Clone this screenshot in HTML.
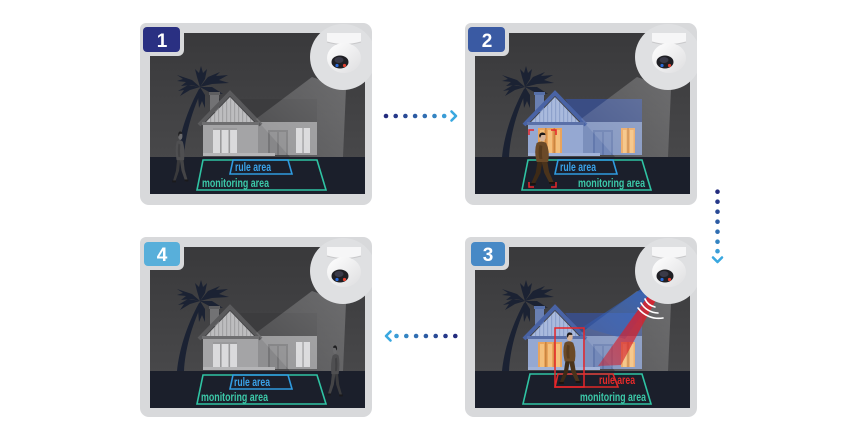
<!DOCTYPE html>
<html><head><meta charset="utf-8"><style>
html,body{margin:0;padding:0;background:#fff;width:850px;height:425px;overflow:hidden}
svg{display:block}
text{font-family:"Liberation Sans",sans-serif}
.lb{font-weight:bold}
</style></head><body>
<svg width="850" height="425" viewBox="0 0 850 425" xmlns="http://www.w3.org/2000/svg">
<defs>
 <linearGradient id="sky" x1="0" y1="0" x2="0" y2="1">
  <stop offset="0" stop-color="#39393b"/><stop offset="1" stop-color="#4c4c4e"/>
 </linearGradient>
 <linearGradient id="beamG" x1="1" y1="0" x2="0" y2="1">
  <stop offset="0" stop-color="#fff" stop-opacity="0.24"/><stop offset="1" stop-color="#fff" stop-opacity="0.08"/>
 </linearGradient>
 <linearGradient id="blueB" x1="1" y1="0" x2="0" y2="1">
  <stop offset="0" stop-color="#2f62c4" stop-opacity="0.95"/><stop offset="1" stop-color="#2f62c4" stop-opacity="0.25"/>
 </linearGradient>
 <linearGradient id="redB" x1="1" y1="0" x2="0" y2="1">
  <stop offset="0" stop-color="#e0202c" stop-opacity="1"/><stop offset="1" stop-color="#d0202c" stop-opacity="0.5"/>
 </linearGradient>
 <linearGradient id="domeG" x1="0" y1="0" x2="1" y2="1">
  <stop offset="0" stop-color="#ffffff"/><stop offset="1" stop-color="#dedee0"/>
 </linearGradient>
 <pattern id="stG" width="4" height="10" patternUnits="userSpaceOnUse"><rect width="4" height="10" fill="#bdbdbf"/><rect width="1.2" height="10" fill="#a2a2a4"/></pattern>
 <pattern id="stB" width="4" height="10" patternUnits="userSpaceOnUse"><rect width="4" height="10" fill="#a9badd"/><rect width="1.2" height="10" fill="#8ea2cc"/></pattern>
 <clipPath id="img"><rect x="0" y="0" width="215" height="161"/></clipPath>
 <clipPath id="card"><rect x="-10" y="-10" width="232" height="182" rx="9"/></clipPath>

 <g id="bg">
  <rect width="215" height="161" fill="url(#sky)"/>
  <rect y="124" width="215" height="37" fill="#1b1f2b"/>
  <g fill="#1b2233">
   <path d="M27,124 C29,104 36,80 49,56 L52,57 C41,80 35,104 34,124 Z"/>
   <polygon points="50,54 42,47 27,42 33,46 27,48 36,49 31,53 41,52"/>
   <polygon points="50,54 47,44 45,36 49,40 51,33 53,40 57,36 55,46"/>
   <polygon points="50,54 58,44 70,39 66,43 78,42 69,47 79,50 62,51"/>
   <polygon points="50,54 62,54 73,61 66,60 70,67 61,60"/>
   <polygon points="50,54 55,62 55,75 52,68 49,75 48,63"/>
   <polygon points="50,54 40,57 30,63 34,57 28,58 38,52"/>
  </g>
 </g>

 <g id="houseGray">
  <polygon points="90,66 167,66 167,90 106,90" fill="#3c3c3e"/>
  <rect x="60" y="61" width="9" height="18" fill="#727274"/>
  <rect x="59" y="59" width="11" height="3" fill="#5e5e60"/>
  <rect x="106" y="89" width="61" height="33" fill="#8f8f91"/>
  <rect x="53" y="90" width="55" height="32" fill="#a4a4a6"/>
  <polygon points="56,89 80,64 104,89" fill="url(#stG)"/>
  <polyline points="49,92 80,60 111,92" fill="none" stroke="#5a5a5c" stroke-width="4"/>
  <rect x="52" y="89" width="57" height="3" fill="#6e6e70"/>
  <rect x="63" y="95" width="24" height="25" fill="#dadadc"/>
  <rect x="70" y="95" width="1.6" height="25" fill="#9a9a9c"/>
  <rect x="78.5" y="95" width="1.6" height="25" fill="#9a9a9c"/>
  <rect x="63" y="95" width="24" height="2" fill="#9a9a9c"/>
  <rect x="118" y="97" width="20" height="25" fill="#767678"/>
  <rect x="120" y="99" width="7" height="23" fill="#878789"/>
  <rect x="129" y="99" width="7" height="23" fill="#878789"/>
  <rect x="146" y="95" width="14" height="25" fill="#d6d6d8"/>
  <rect x="152.3" y="95" width="1.5" height="25" fill="#9a9a9c"/>
  <rect x="53" y="120" width="72" height="3" fill="#b5b5b7"/>
 </g>

 <g id="houseBlue">
  <polygon points="90,66 167,66 167,90 106,90" fill="#3a4d84"/>
  <rect x="60" y="61" width="9" height="18" fill="#6a80b2"/>
  <rect x="59" y="59" width="11" height="3" fill="#5770a8"/>
  <rect x="106" y="89" width="61" height="33" fill="#7b8fbc"/>
  <rect x="53" y="90" width="55" height="32" fill="#95a8d2"/>
  <polygon points="56,89 80,64 104,89" fill="url(#stB)"/>
  <polyline points="49,92 80,60 111,92" fill="none" stroke="#4963a5" stroke-width="4"/>
  <rect x="52" y="89" width="57" height="3" fill="#5a70a8"/>
  <rect x="63" y="95" width="24" height="25" fill="#eaa45c"/>
  <rect x="65" y="97" width="4" height="23" fill="#f4c07c"/>
  <rect x="73" y="97" width="4" height="23" fill="#f4c07c"/>
  <rect x="81" y="97" width="4" height="23" fill="#f4c07c"/>
  <rect x="70" y="95" width="1.6" height="25" fill="#c98540"/>
  <rect x="78.5" y="95" width="1.6" height="25" fill="#c98540"/>
  <rect x="118" y="97" width="20" height="25" fill="#6379ad"/>
  <rect x="120" y="99" width="7" height="23" fill="#7489b9"/>
  <rect x="129" y="99" width="7" height="23" fill="#7489b9"/>
  <rect x="146" y="95" width="14" height="25" fill="#eaa45c"/>
  <rect x="148" y="97" width="3.5" height="23" fill="#f4c07c"/>
  <rect x="155" y="97" width="3.5" height="23" fill="#f4c07c"/>
  <rect x="152.3" y="95" width="1.5" height="25" fill="#c98540"/>
  <rect x="53" y="120" width="72" height="3" fill="#a2b3d8"/>
 </g>

 <g id="cam">
  <circle cx="193" cy="24" r="33" fill="#dfe0e2"/>
  <path d="M177,0 L211,0 L211,9 Q194,14 177,9 Z" fill="#f6f6f7"/>
  <path d="M177,9 Q194,14 211,9" fill="none" stroke="#c8c8ca" stroke-width="1"/>
  <ellipse cx="194" cy="25" rx="17" ry="15" fill="url(#domeG)"/>
  <ellipse cx="190" cy="29" rx="8.5" ry="6.5" fill="#1f1f24"/>
  <ellipse cx="189" cy="27" rx="4.5" ry="3" fill="#3a3a48"/>
  <circle cx="187" cy="32.5" r="1.6" fill="#2a6ad8"/>
  <circle cx="194.5" cy="32.5" r="1.6" fill="#e04030"/>
 </g>

 <g id="pGray">
  <path d="M10,30 L15,30 L13,42 L7,53 L3,53 L8,42 Z" fill="#3a3a3c"/>
  <path d="M14,30 L20,30 L22,41 L27,52 L23,53 L17,42 Z" fill="#444446"/>
  <path d="M9,12 Q14,9 19,12 Q23,20 21,31 L9,31 Q6,20 9,12 Z" fill="#4f4f51"/>
  <path d="M12,14 Q10,22 12,28 L15,28 Q14,22 15,15 Z" fill="#424244"/>
  <ellipse cx="15" cy="6" rx="3.5" ry="4.3" fill="#6a6a6c"/>
  <path d="M11.5,5 Q12,1 15.5,1.5 Q18.5,2 18,4 L14,4 Q13,6 12.5,7 Z" fill="#1e1e20"/>
  <rect x="2" y="52" width="6" height="2" fill="#1a1a1c"/>
  <rect x="22" y="51" width="6" height="2" fill="#1a1a1c"/>
 </g>
 <g id="pBrown">
  <path d="M10,30 L15,30 L13,42 L7,53 L3,53 L8,42 Z" fill="#3d2a16"/>
  <path d="M14,30 L20,30 L22,41 L27,52 L23,53 L17,42 Z" fill="#4a331b"/>
  <path d="M9,12 Q14,9 19,12 Q23,20 21,31 L9,31 Q6,20 9,12 Z" fill="#6b4a28"/>
  <path d="M12,14 Q10,22 12,28 L15,28 Q14,22 15,15 Z" fill="#573b1e"/>
  <ellipse cx="15" cy="6" rx="3.5" ry="4.3" fill="#d8b59a"/>
  <path d="M11.5,5 Q12,1 15.5,1.5 Q18.5,2 18,4 L14,4 Q13,6 12.5,7 Z" fill="#1e1a18"/>
  <rect x="2" y="52" width="6" height="2" fill="#1a1410"/>
  <rect x="22" y="51" width="6" height="2" fill="#1a1410"/>
 </g>
</defs>

<rect width="850" height="425" fill="#fff"/>

<!-- PANEL 1 -->
<g transform="translate(150,33)">
 <rect x="-10" y="-10" width="232" height="182" rx="9" fill="#d8d9db"/>
 <g clip-path="url(#img)">
  <use href="#bg"/>
  <use href="#houseGray"/>
  <polygon points="162,44 106,86 140,124 193,124 196,56" fill="url(#beamG)"/>
  <polygon points="53,127 167,127 176,157 47,157" fill="none" stroke="#2fc3a3" stroke-width="1.6"/>
  <polygon points="83,127 138,127 142,141 80,141" fill="none" stroke="#2f9be0" stroke-width="1.6"/>
  <text class="lb" x="85" y="138" font-size="11.5" fill="#3aa3ea" textLength="36" lengthAdjust="spacingAndGlyphs">rule area</text>
  <text class="lb" x="52" y="154" font-size="11.5" fill="#3cc9a9" textLength="67" lengthAdjust="spacingAndGlyphs">monitoring area</text>
  <use href="#pGray" transform="translate(21,97) scale(0.62,0.97)"/>
 </g>
 <g clip-path="url(#card)"><use href="#cam"/></g>
 <rect x="-10" y="-10" width="44" height="33" rx="6" fill="#d8d9db"/>
 <rect x="-7" y="-6" width="37" height="25" rx="4" fill="#2a3082"/>
 <text x="12" y="14" font-size="19" font-weight="bold" fill="#fff" text-anchor="middle">1</text>
</g>

<!-- PANEL 2 -->
<g transform="translate(475,33)">
 <rect x="-10" y="-10" width="232" height="182" rx="9" fill="#d8d9db"/>
 <g clip-path="url(#img)">
  <use href="#bg"/>
  <use href="#houseBlue"/>
  <polygon points="162,44 106,86 140,124 193,124 196,56" fill="url(#beamG)"/>
  <polygon points="53,127 167,127 176,157 47,157" fill="none" stroke="#2fc3a3" stroke-width="1.6"/>
  <polygon points="83,127 138,127 142,141 80,141" fill="none" stroke="#2f9be0" stroke-width="1.6"/>
  <text class="lb" x="85" y="138" font-size="11.5" fill="#3aa3ea" textLength="36" lengthAdjust="spacingAndGlyphs">rule area</text>
  <text class="lb" x="103" y="154" font-size="11.5" fill="#3cc9a9" textLength="67" lengthAdjust="spacingAndGlyphs">monitoring area</text>
  <use href="#pBrown" transform="translate(53,98) scale(0.96,1.0)"/>
  <g fill="none" stroke="#e8262a" stroke-width="1.5">
   <polyline points="54,102 54,97 59,97"/>
   <polyline points="76,97 81,97 81,102"/>
   <polyline points="54,149 54,154 59,154"/>
   <polyline points="76,154 81,154 81,149"/>
  </g>
 </g>
 <g clip-path="url(#card)"><use href="#cam"/></g>
 <rect x="-10" y="-10" width="44" height="33" rx="6" fill="#d8d9db"/>
 <rect x="-7" y="-6" width="37" height="25" rx="4" fill="#3a5aa3"/>
 <text x="12" y="14" font-size="19" font-weight="bold" fill="#fff" text-anchor="middle">2</text>
</g>

<!-- PANEL 3 -->
<g transform="translate(475,247)">
 <rect x="-10" y="-10" width="232" height="180" rx="9" fill="#d8d9db"/>
 <g clip-path="url(#img)">
  <use href="#bg"/>
  <use href="#houseBlue"/>
  <polygon points="162,44 106,86 140,124 193,124 196,56" fill="url(#beamG)"/>
  <polygon points="180,33 187,39 150,92 108,80" fill="url(#blueB)"/>
  <polygon points="183,35 189,38 146,118 123,119" fill="url(#redB)"/>
  <g fill="none" stroke="#fff" stroke-width="1.6" stroke-linecap="round">
   <path d="M170,52 A14,14 0 0 0 180,60"/>
   <path d="M166,56 A20,20 0 0 0 183,66"/>
   <path d="M163,61 A26,26 0 0 0 188,71"/>
  </g>
  <polygon points="55,127 167,127 176,157 48,157" fill="none" stroke="#2fc3a3" stroke-width="1.6"/>
  <polygon points="83,127 138,127 143,140 80,140" fill="none" stroke="#e02828" stroke-width="1.6"/>
  <text class="lb" x="124" y="137" font-size="11.5" fill="#e62a2a" textLength="36" lengthAdjust="spacingAndGlyphs">rule area</text>
  <text class="lb" x="105" y="154" font-size="11.5" fill="#3cc9a9" textLength="66" lengthAdjust="spacingAndGlyphs">monitoring area</text>
  <use href="#pBrown" transform="translate(82,84) scale(0.85,0.98)"/>
  <rect x="80" y="81" width="29" height="59" fill="none" stroke="#e8262a" stroke-width="1.5"/>
 </g>
 <g clip-path="url(#card)"><use href="#cam"/></g>
 <rect x="-10" y="-10" width="44" height="33" rx="6" fill="#d8d9db"/>
 <rect x="-4" y="-5" width="34" height="24" rx="4" fill="#4789c6"/>
 <text x="13" y="14" font-size="19" font-weight="bold" fill="#fff" text-anchor="middle">3</text>
</g>

<!-- PANEL 4 -->
<g transform="translate(150,247)">
 <rect x="-10" y="-10" width="232" height="180" rx="9" fill="#d8d9db"/>
 <g clip-path="url(#img)">
  <use href="#bg"/>
  <use href="#houseGray"/>
  <polygon points="162,44 106,86 140,124 193,124 196,56" fill="url(#beamG)"/>
  <polygon points="53,128 167,128 176,157 47,157" fill="none" stroke="#2fc3a3" stroke-width="1.6"/>
  <polygon points="83,128 138,128 142,142 80,142" fill="none" stroke="#2f9be0" stroke-width="1.6"/>
  <text class="lb" x="84" y="139" font-size="11.5" fill="#3aa3ea" textLength="36" lengthAdjust="spacingAndGlyphs">rule area</text>
  <text class="lb" x="51" y="154" font-size="11.5" fill="#3cc9a9" textLength="67" lengthAdjust="spacingAndGlyphs">monitoring area</text>
  <use href="#pGray" transform="translate(194,97) scale(-0.6,0.97)"/>
 </g>
 <g clip-path="url(#card)"><use href="#cam"/></g>
 <rect x="-10" y="-10" width="44" height="33" rx="6" fill="#d8d9db"/>
 <rect x="-6" y="-5" width="36" height="24" rx="4" fill="#58afda"/>
 <text x="12" y="14" font-size="19" font-weight="bold" fill="#fff" text-anchor="middle">4</text>
</g>

<!-- ARROW 1 (right) -->
<g>
 <circle cx="386" cy="116" r="2.3" fill="#232c7e"/>
 <circle cx="395.7" cy="116" r="2.3" fill="#26398a"/>
 <circle cx="405.4" cy="116" r="2.3" fill="#294a96"/>
 <circle cx="415.1" cy="116" r="2.3" fill="#2c5ba3"/>
 <circle cx="424.8" cy="116" r="2.3" fill="#306eb2"/>
 <circle cx="434.5" cy="116" r="2.3" fill="#3484c2"/>
 <circle cx="444.2" cy="116" r="2.3" fill="#3a9cd6"/>
 <polyline points="451.5,111.5 456,116 451.5,120.5" fill="none" stroke="#3aa8e0" stroke-width="2.6" stroke-linecap="round" stroke-linejoin="round"/>
</g>
<!-- ARROW 2 (down) -->
<g>
 <circle cx="717.5" cy="191.7" r="2.3" fill="#232c7e"/>
 <circle cx="717.5" cy="201.7" r="2.3" fill="#26398a"/>
 <circle cx="717.5" cy="211.7" r="2.3" fill="#294a96"/>
 <circle cx="717.5" cy="221.7" r="2.3" fill="#2c5ba3"/>
 <circle cx="717.5" cy="231.7" r="2.3" fill="#306eb2"/>
 <circle cx="717.5" cy="241.7" r="2.3" fill="#3484c2"/>
 <circle cx="717.5" cy="251.2" r="2.3" fill="#3a9cd6"/>
 <polyline points="713,257.5 717.5,262 722,257.5" fill="none" stroke="#3aa8e0" stroke-width="2.6" stroke-linecap="round" stroke-linejoin="round"/>
</g>
<!-- ARROW 3 (left) -->
<g>
 <polyline points="390.5,331.5 386,336 390.5,340.5" fill="none" stroke="#3aa8e0" stroke-width="2.6" stroke-linecap="round" stroke-linejoin="round"/>
 <circle cx="396.5" cy="336" r="2.3" fill="#3a9cd6"/>
 <circle cx="406.3" cy="336" r="2.3" fill="#3484c2"/>
 <circle cx="416.1" cy="336" r="2.3" fill="#306eb2"/>
 <circle cx="425.9" cy="336" r="2.3" fill="#2c5ba3"/>
 <circle cx="435.7" cy="336" r="2.3" fill="#294a96"/>
 <circle cx="445.5" cy="336" r="2.3" fill="#26398a"/>
 <circle cx="455.3" cy="336" r="2.3" fill="#232c7e"/>
</g>
</svg>
</body></html>
